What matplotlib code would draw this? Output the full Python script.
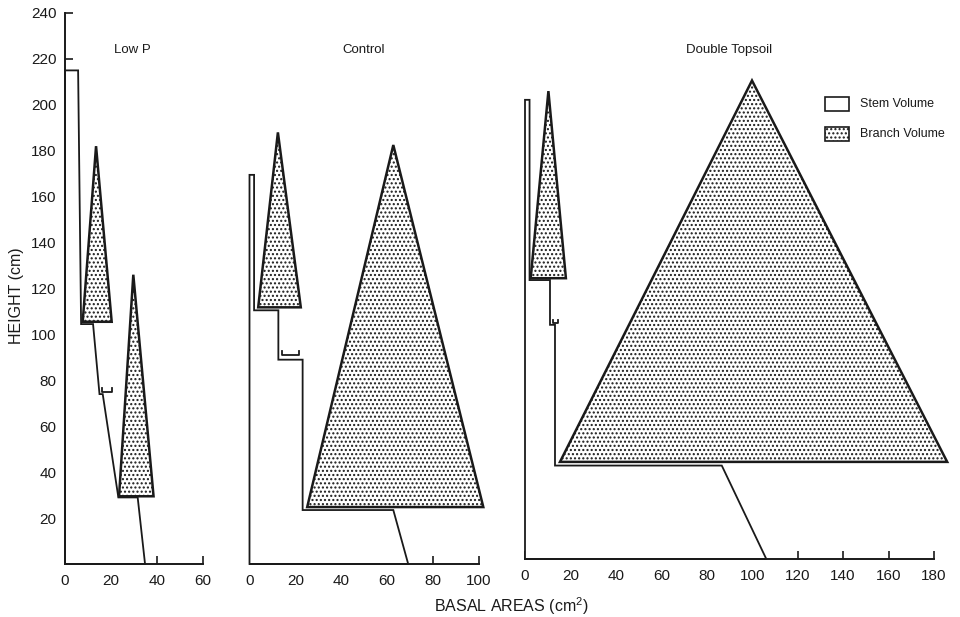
import matplotlib
matplotlib.use('Agg')
from matplotlib import pyplot as plt
from matplotlib.patches import Polygon, Rectangle

plt.rcParams['font.family'] = ['Liberation Sans', 'DejaVu Sans']
plt.rcParams['mathtext.fontset'] = 'custom'
plt.rcParams['mathtext.rm'] = 'Liberation Sans'
plt.rcParams['mathtext.it'] = 'Liberation Sans'
plt.rcParams['hatch.linewidth'] = 1.0

ink = '#1a1a1a'

# ---- Low P ----
lowp_stem_x = [0, 0, 5.7, 7, 12.2, 15, 16.4, 23.2, 31.6, 34.8]
lowp_stem_y = [0, 215, 215, 104.5, 104.5, 74, 74, 29, 29, 0]
lowp_tri_left = [7.7, 23.5]
lowp_tri_right = [20.3, 38.5]
lowp_tri_base = [105.5, 29.5]
lowp_tri_apex_x = [13.5, 29.7]
lowp_tri_apex_y = [182, 126]
lowp_small_x = [16, 20.3]
lowp_small_y = 75

# ---- Control ----
ctrl_stem_x = [0, 0, 2, 2, 12.6, 12.6, 23.2, 23.2, 62.8, 69.3]
ctrl_stem_y = [0, 169.5, 169.5, 110.5, 110.5, 89, 89, 23.5, 23.5, 0]
ctrl_tri_left = [3.8, 25.2]
ctrl_tri_right = [22.4, 102.1]
ctrl_tri_base = [111.8, 24.8]
ctrl_tri_apex_x = [12.4, 62.8]
ctrl_tri_apex_y = [188, 182.5]
ctrl_small_x = [14, 21.7]
ctrl_small_y = 91

# ---- Double Topsoil ----
dbl_stem_x = [0, 0, 2, 2, 11, 11, 13.2, 13.2, 86.6, 106.2]
dbl_stem_y = [0, 200, 200, 121.5, 121.5, 102, 102, 40.7, 40.7, 0]
dbl_tri_left = [2.5, 15.4]
dbl_tri_right = [18, 185.8]
dbl_tri_base = [122.3, 42.3]
dbl_tri_apex_x = [10.3, 99.9]
dbl_tri_apex_y = [203.8, 208.4]
dbl_small_x = [12.5, 14.7]
dbl_small_y = 102.6

panels = [
    ('Low P', 60, [0, 20, 40, 60], lowp_stem_x, lowp_stem_y, lowp_tri_left, lowp_tri_right,
     lowp_tri_base, lowp_tri_apex_x, lowp_tri_apex_y, lowp_small_x, lowp_small_y),
    ('Control', 100, [0, 20, 40, 60, 80, 100], ctrl_stem_x, ctrl_stem_y, ctrl_tri_left, ctrl_tri_right,
     ctrl_tri_base, ctrl_tri_apex_x, ctrl_tri_apex_y, ctrl_small_x, ctrl_small_y),
    ('Double Topsoil', 180, list(range(0, 181, 20)), dbl_stem_x, dbl_stem_y, dbl_tri_left, dbl_tri_right,
     dbl_tri_base, dbl_tri_apex_x, dbl_tri_apex_y, dbl_small_x, dbl_small_y),
]

# axes rectangles in figure pixels (left, width, y0 pixel)
W, H = 960, 617
boxes = [(65, 138, 564), (249.5, 229, 564), (525, 409, 559)]
px_per_unit = 551 / 240.0

fig = plt.figure(figsize=(9.6, 6.17), dpi=100)
fig.patch.set_facecolor('white')

for (title, xmax, xt, sx, sy, tl, tr, tb, ax_, ay_, smx, smy), (left, width, y0) in zip(panels, boxes):
    h = 240 * px_per_unit
    ax = fig.add_axes([left / W, (H - y0) / H, width / W, h / H])
    ax.set_xlim(0, xmax)
    ax.set_ylim(0, 240)
    ax.patch.set_alpha(0)
    for s in ['top', 'right']:
        ax.spines[s].set_visible(False)
    ax.spines['bottom'].set_linewidth(1.4)
    ax.spines['bottom'].set_color(ink)
    ax.spines['left'].set_linewidth(1.4)
    ax.spines['left'].set_color(ink)
    ax.set_xticks(xt)
    ax.tick_params(axis='x', direction='in', length=6, width=1.2, color=ink,
                   labelsize=11, labelcolor=ink, pad=7)
    if title == 'Low P':
        ax.set_yticks(range(20, 241, 20))
        ax.tick_params(axis='y', direction='in', length=6, width=1.2, color=ink,
                       labelsize=11, labelcolor=ink, pad=6)
    else:
        ax.spines['left'].set_visible(False)
        ax.set_yticks([])

    # stem volume outline
    ax.add_patch(Polygon(list(zip(sx, sy)), closed=True, facecolor='white',
                         edgecolor=ink, linewidth=1.3, clip_on=False, zorder=2))
    # small branch bracket
    ax.plot([smx[0], smx[0], smx[1], smx[1]], [smy + 1.6, smy, smy, smy + 1.6],
            color=ink, linewidth=1.3, clip_on=False, zorder=3)
    # branch volume triangles
    for l, r, b, axp, ayp in zip(tl, tr, tb, ax_, ay_):
        ax.add_patch(Polygon([(l, b), (r, b), (axp, ayp)], closed=True, facecolor='white',
                             edgecolor=ink, linewidth=1.8, hatch='....', clip_on=False, zorder=4))

    fig.text((left + width * (0.5 if title != 'Low P' else 0.49)) / W, (H - 50) / H, title,
             ha='center', va='center', fontsize=9.5, color=ink)

# legend
fig.add_artist(Rectangle((825 / W, (H - 111) / H), 24 / W, 14 / H, transform=fig.transFigure,
                         facecolor='white', edgecolor=ink, linewidth=1.2))
fig.add_artist(Rectangle((825 / W, (H - 141) / H), 24 / W, 14 / H, transform=fig.transFigure,
                         facecolor='white', edgecolor=ink, linewidth=1.2, hatch='....'))
fig.text(860 / W, (H - 104) / H, 'Stem Volume', ha='left', va='center', fontsize=9, color=ink)
fig.text(860 / W, (H - 134) / H, 'Branch Volume', ha='left', va='center', fontsize=9, color=ink)

fig.text(17 / W, (H - 296) / H, 'HEIGHT (cm)', rotation=90, ha='center', va='center',
         fontsize=11.5, color=ink)
fig.text(511 / W, (H - 606) / H, r'BASAL AREAS (cm$^{2}$)', ha='center', va='center',
         fontsize=11.5, color=ink)

plt.savefig('out.png', dpi=100)
